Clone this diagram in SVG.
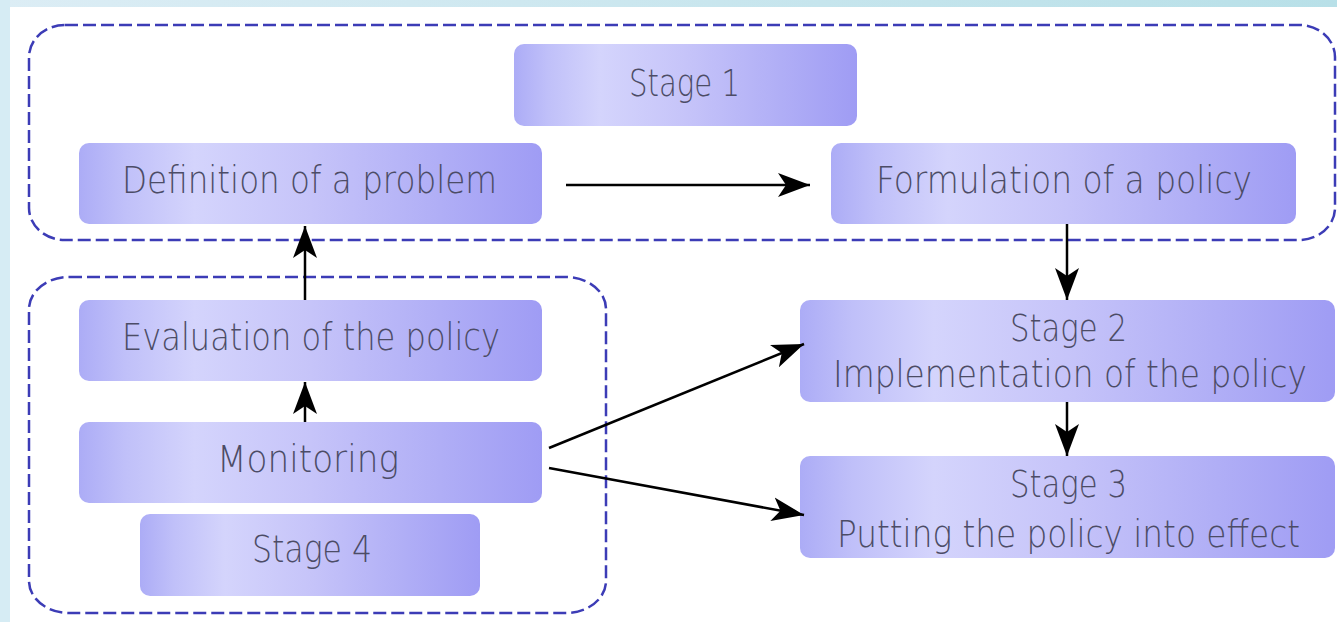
<svg xmlns="http://www.w3.org/2000/svg" width="1337" height="622" viewBox="0 0 1337 622">
<defs>
<linearGradient id="bg" x1="0" y1="0" x2="1" y2="0">
<stop offset="0" stop-color="#dcedf5"/>
<stop offset="1" stop-color="#b8e0e8"/>
</linearGradient>
<linearGradient id="box" x1="0" y1="0" x2="1" y2="0">
<stop offset="0" stop-color="#acacf6"/>
<stop offset="0.1" stop-color="#c0c0f9"/>
<stop offset="0.25" stop-color="#d4d4fc"/>
<stop offset="0.5" stop-color="#c6c4f9"/>
<stop offset="0.78" stop-color="#b0aef6"/>
<stop offset="1" stop-color="#9f9cf4"/>
</linearGradient>
<marker id="ah" markerUnits="userSpaceOnUse" markerWidth="34" markerHeight="26" refX="32" refY="13" orient="auto">
<path d="M0,1 L32,13 L0,25 L8,13 Z" fill="#000"/>
</marker>
<style>
.cont{fill:none;stroke:#3c3cb6;stroke-width:2.5;stroke-dasharray:13 5}
.box{fill:url(#box)}
.t{font-family:"DejaVu Sans","Liberation Sans",sans-serif;font-weight:200;font-size:37px;fill:#4c4c66}
.c{fill:none;stroke:#000;stroke-width:2.5;marker-end:url(#ah)}
</style>
</defs>
<rect x="0" y="0" width="1337" height="622" fill="#fff"/>
<rect x="0" y="0" width="1337" height="7" fill="url(#bg)"/>
<rect x="0" y="0" width="10" height="622" fill="#d6ecf4"/>

<g id="stage1-container">
<rect class="cont" x="29" y="25" width="1306" height="215" rx="36" ry="32"/>
</g>
<g id="stage4-container">
<rect class="cont" x="29" y="277" width="577" height="336" rx="40" ry="32"/>
</g>

<g id="stage1">
<rect class="box" x="514" y="44" width="343" height="82" rx="10"/>
<text class="t" x="629" y="96" textLength="111" lengthAdjust="spacingAndGlyphs">Stage 1</text>
</g>
<g id="definition">
<rect class="box" x="79" y="143" width="463" height="81" rx="10"/>
<text class="t" x="122" y="193" textLength="375" lengthAdjust="spacingAndGlyphs">Definition of a problem</text>
</g>
<g id="formulation">
<rect class="box" x="831" y="143" width="465" height="81" rx="10"/>
<text class="t" x="876" y="193" textLength="376" lengthAdjust="spacingAndGlyphs">Formulation of a policy</text>
</g>
<g id="evaluation">
<rect class="box" x="79" y="300" width="463" height="81" rx="10"/>
<text class="t" x="122" y="350" textLength="378" lengthAdjust="spacingAndGlyphs">Evaluation of the policy</text>
</g>
<g id="monitoring">
<rect class="box" x="79" y="422" width="463" height="81" rx="10"/>
<text class="t" x="217" y="472" textLength="182" lengthAdjust="spacingAndGlyphs">Monitoring</text>
</g>
<g id="stage4">
<rect class="box" x="140" y="514" width="340" height="82" rx="10"/>
<text class="t" x="252" y="562" textLength="120" lengthAdjust="spacingAndGlyphs">Stage 4</text>
</g>
<g id="stage2">
<rect class="box" x="800" y="300" width="535" height="102" rx="10"/>
<text class="t" x="1010" y="341" textLength="117" lengthAdjust="spacingAndGlyphs">Stage 2</text>
<text class="t" x="833" y="387" textLength="474" lengthAdjust="spacingAndGlyphs">Implementation of the policy</text>
</g>
<g id="stage3">
<rect class="box" x="800" y="456" width="535" height="102" rx="10"/>
<text class="t" x="1010" y="497" textLength="117" lengthAdjust="spacingAndGlyphs">Stage 3</text>
<text class="t" x="837" y="547" textLength="463" lengthAdjust="spacingAndGlyphs">Putting the policy into effect</text>
</g>

<g id="connectors">
<path class="c" d="M566,185 L810,185"/>
<path class="c" d="M1067,224 L1067,300"/>
<path class="c" d="M1067,402 L1067,456"/>
<path class="c" d="M305,300 L305,226"/>
<path class="c" d="M305,422 L305,382"/>
<path class="c" d="M549,448 L804,344"/>
<path class="c" d="M549,468 L804,515"/>
</g>
</svg>
